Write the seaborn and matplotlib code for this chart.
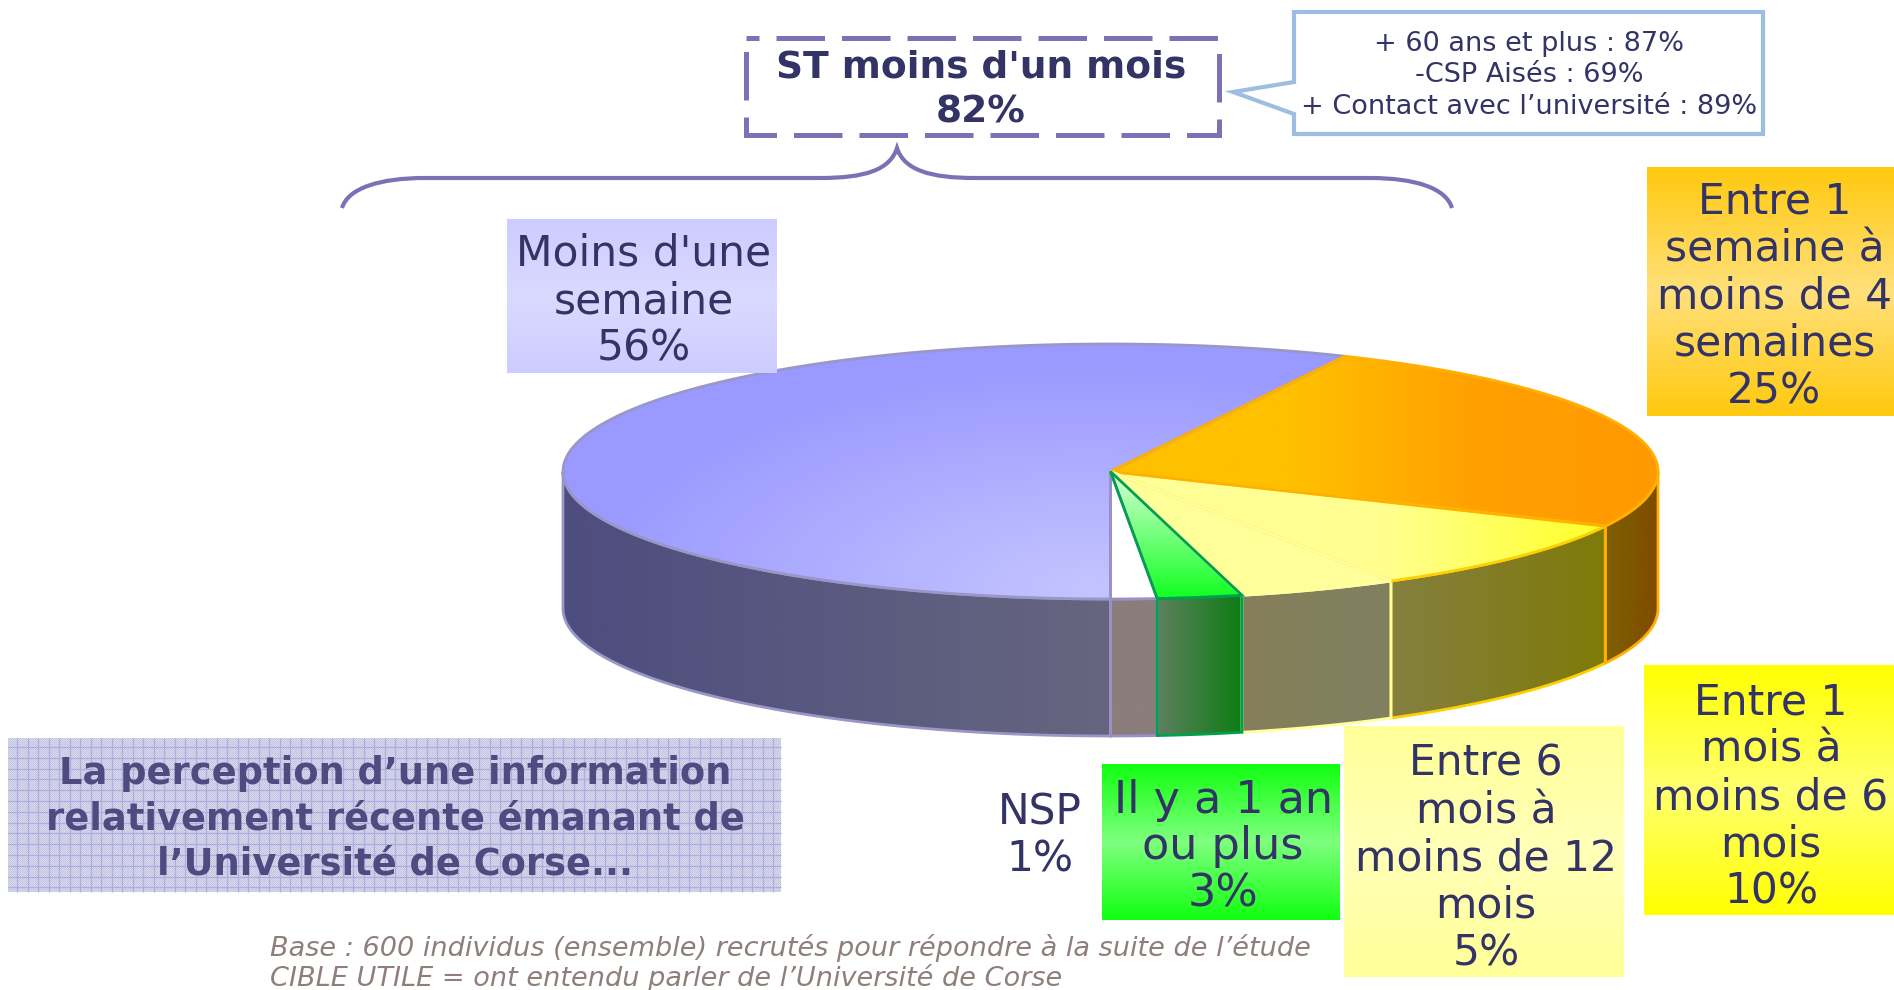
"""
3D pie: how long ago people heard about the Universite de Corse.
"""

import numpy as np
import seaborn as sns
import matplotlib
matplotlib.use("Agg")
import matplotlib.pyplot as plt
from matplotlib.patches import Polygon, PathPatch, Rectangle
from matplotlib.path import Path

# slices listed from the bottom of the pie going round to the right
categories = ["NSP", "Il y a 1 an\nou plus", "Entre 6\nmois à\nmoins de 12\nmois",
              "Entre 1\nmois à\nmoins de 6\nmois",
              "Entre 1\nsemaine à\nmoins de 4\nsemaines", "Moins d'une\nsemaine"]
labels_pct = [1, 3, 5, 10, 25, 56]
# shares as drawn in the picture (the drawn pie is not exactly the rounded labels)
drawn_shares = [1.36, 2.5, 4.7, 9.4, 25.0, 57.04]

title_lines = "ST moins d'un mois\n82%"
callout_lines = "+ 60 ans et plus : 87%\n-CSP Aisés : 69%\n+ Contact avec l’université : 89%"
subtitle_lines = "La perception d’une information\nrelativement récente émanant de\nl’Université de Corse..."
footer_lines = "Base : 600 individus (ensemble) recrutés pour répondre à la suite de l’étude\nCIBLE UTILE = ont entendu parler de l’Université de Corse"

TEXT = "#333366"
CX, CY, RX, RY, DEPTH = 1110.5, 471.5, 547.5, 127.5, 137

# colours per slice: top gradient, side gradient, edge
top_colors = [["#FFFFFF", "#FFFFFF"], ["#D8FFD8", "#10FF20"], ["#FFFF99", "#FFFFA0"],
              ["#FFFF99", "#FFFF90", "#FFFF10"], ["#FFC000", "#FFC000", "#FFA000", "#FF9900"],
              ["#C4C4FF", "#9999FF"]]
side_colors = [["#8B7D7B", "#8B7D7B"], ["#5F8060", "#0B7D12"], ["#85805A", "#807F60"],
               ["#85803F", "#7F7A08"], ["#7F5F00", "#7F4C00"], ["#4D4D7F", "#66667F"]]
edge_colors = ["#9A90C8", "#00A050", "#FFFFA0", "#FFD000", "#FFB000", "#9A96C8"]
face_z = [5.3, 5.4, 5.2, 5.0, 5.1, 5.0]
wall_z = [3.3, 3.4, 3.2, 3.0, 3.1, 3.0]

sns.set_theme(style="white")
plt.rcParams["font.family"] = ["DejaVu Sans"]

fig = plt.figure(figsize=(18.94, 9.90), dpi=100)
ax = fig.add_axes([0, 0, 1, 1])
ax.set_xlim(0, 1894)
ax.set_ylim(990, 0)
ax.axis("off")


def gradient_fill(stops, box, clip=None, vertical=True, zorder=2):
    x0, x1, y0, y1 = box
    cmap = sns.blend_palette(stops, as_cmap=True)
    g = np.linspace(0, 1, 256).reshape(-1, 1)
    if not vertical:
        g = g.T
    im = ax.imshow(g, cmap=cmap, extent=[x0, x1, y1, y0], aspect="auto",
                   vmin=0, vmax=1, zorder=zorder, interpolation="bilinear")
    if clip is not None:
        im.set_clip_path(clip)
    return im


def rim(a0, a1, drop=0):
    t = np.radians(np.linspace(a0, a1, 200))
    return np.column_stack([CX + RX * np.cos(t), CY - RY * np.sin(t) + drop])


bounds = -90 + 3.6 * np.cumsum([0] + drawn_shares)
for i in range(len(drawn_shares)):
    a0, a1 = bounds[i], bounds[i + 1]
    # the side wall only shows on the front half
    if a1 > 180:
        pieces = [(180, min(a1, 360))]
    else:
        pieces = [(a0, min(a1, 0))]
    for p0, p1 in pieces:
        top = rim(p0, p1)
        low = rim(p0, p1, DEPTH)[::-1]
        wall = Polygon(np.vstack([top, low]), closed=True, fc="none", ec=edge_colors[i],
                       lw=2, zorder=wall_z[i])
        ax.add_patch(wall)
        xs = np.r_[top[:, 0], low[:, 0]]
        gradient_fill(side_colors[i], (xs.min(), xs.max(), CY, CY + RY + DEPTH),
                      clip=wall, vertical=False)

    face = Polygon(np.vstack([[CX, CY], rim(a0, a1)]), closed=True, fc="none",
                   ec=edge_colors[i], lw=2, zorder=face_z[i])
    ax.add_patch(face)
    if i == 5:
        # big slice gets lighter around the front centre
        gx, gy = np.meshgrid(np.linspace(CX - RX, CX + RX, 500), np.linspace(CY - RY, CY + RY, 200))
        glow = np.clip(np.hypot((gx - CX + 20) / 520, (gy - CY - RY + 10) / 230), 0, 1)
        im = ax.imshow(glow, cmap=sns.blend_palette(top_colors[i], as_cmap=True), vmin=0, vmax=1,
                       extent=[CX - RX, CX + RX, CY + RY, CY - RY], aspect="auto", zorder=4)
        im.set_clip_path(face)
    elif i == 1:
        gradient_fill(top_colors[i], (CX, CX + 140, CY, CY + RY), clip=face, zorder=4)
    else:
        gradient_fill(top_colors[i], (CX, CX + RX, CY - RY, CY + RY), clip=face,
                      vertical=False, zorder=4)


def label_box(text, box, stops, size=30.5, dx=2, dy=6, linespacing=1.165):
    x0, x1, y0, y1 = box
    clip = Rectangle((x0, y0), x1 - x0, y1 - y0, fc="none", ec="none", zorder=6)
    ax.add_patch(clip)
    gradient_fill(stops, (x0, x1, y0, y1), clip=clip, zorder=6)
    ax.text((x0 + x1) / 2 + dx, (y0 + y1) / 2 + dy, text, ha="center", va="center", fontsize=size,
            color=TEXT, linespacing=linespacing, zorder=8)


label_box(f"{categories[5]}\n{labels_pct[5]}%", (507, 777, 219, 373),
          ["#CCCCFF", "#DADAFF", "#CCCCFF"], dy=5)
label_box(f"{categories[4]}\n{labels_pct[4]}%", (1647, 1894, 167, 416),
          ["#FFC90E", "#FFE07A", "#FFC90E"], dx=4, dy=5)
label_box(f"{categories[3]}\n{labels_pct[3]}%", (1644, 1894, 665, 915),
          ["#FFFF00", "#FFFF70", "#FFFF00"], dy=7)
label_box(f"{categories[2]}\n{labels_pct[2]}%", (1344, 1624, 726, 977),
          ["#FFFF99", "#FFFFB8", "#FFFF99"], dy=7)
label_box(f"{categories[1]}\n{labels_pct[1]}%", (1102, 1340, 764, 920),
          ["#11FF11", "#7FFF7F", "#11FF11"], size=32, dy=5, linespacing=1.11)
ax.text(1040, 836, f"{categories[0]}\n{labels_pct[0]}%", ha="center", va="center", fontsize=30.5,
        color=TEXT, linespacing=1.165, zorder=8)

# dashed title box
ax.add_patch(Rectangle((746, 38), 473, 97, fc="none", ec="#7A72B5", lw=3.6,
                       ls=(7.1, (9.7, 3.4)), zorder=7))
ax.text(981, 90, title_lines, ha="center", va="center", fontsize=27, fontweight="bold",
        color=TEXT, linespacing=1.33, zorder=8)

# callout
callout = Polygon([(1294, 12), (1763, 12), (1763, 134), (1294, 134), (1294, 114), (1233, 92),
                   (1294, 82)], closed=True, fc="white", ec="#9DBDE3", lw=3, zorder=7)
ax.add_patch(callout)
ax.text(1529, 75.5, callout_lines, ha="center", va="center", fontsize=19.5, color=TEXT,
        linespacing=1.29, zorder=8)

# brace over the first two slices
codes = [Path.MOVETO, Path.CURVE4, Path.CURVE4, Path.CURVE4, Path.LINETO, Path.CURVE4, Path.CURVE4,
         Path.CURVE4, Path.CURVE4, Path.CURVE4, Path.CURVE4, Path.LINETO, Path.CURVE4, Path.CURVE4,
         Path.CURVE4]
verts = [(342, 208), (348, 188), (380, 178), (425, 178), (820, 178), (865, 178), (890, 170),
         (897, 148), (904, 170), (930, 178), (975, 178), (1370, 178), (1415, 178), (1446, 188),
         (1452, 208)]
ax.add_patch(PathPatch(Path(verts, codes), fc="none", ec="#7A72B5", lw=3, zorder=7))

# subtitle box with the woven background
weave = np.indices((154, 773)).sum(axis=0) % 2
ax.imshow(weave, cmap=sns.blend_palette(["#C6C6E3", "#D8D8EC"], as_cmap=True),
          extent=[8, 781, 892, 738], aspect="auto", interpolation="nearest", zorder=6)
ax.vlines(np.arange(17, 781, 10.5), 738, 892, color="#AEAEDE", lw=0.9, zorder=6.1)
ax.hlines(np.arange(747, 892, 10.8), 8, 781, color="#AEAEDE", lw=0.9, zorder=6.1)
ax.text(395, 819, subtitle_lines, ha="center", va="center", fontsize=26.5, fontweight="bold",
        color="#4F4A7F", linespacing=1.29, zorder=8)

ax.text(270, 963, footer_lines, ha="left", va="center", fontsize=19.5, fontstyle="italic",
        color="#8E7F7B", linespacing=1.124, zorder=8)

ax.set_xlim(0, 1894)
ax.set_ylim(990, 0)
fig.savefig("out.png", dpi=100)
